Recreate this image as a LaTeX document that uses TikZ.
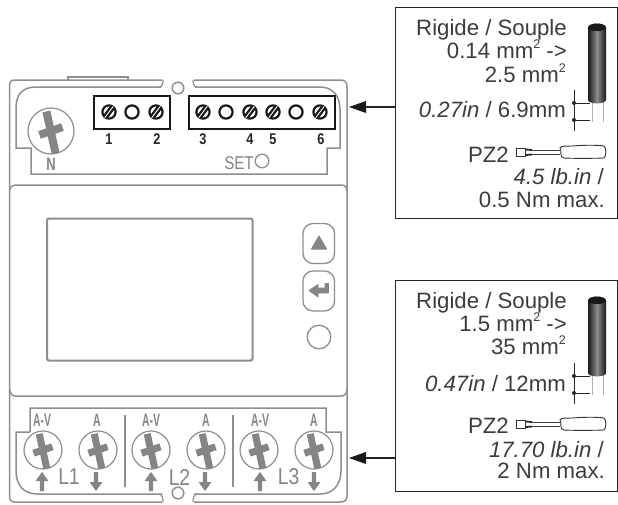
\documentclass[tikz,border=0pt]{standalone}
\usepackage{fontspec}
\setmainfont{Liberation Sans}
\definecolor{devgrey}{HTML}{8E8E8E}
\definecolor{crossgrey}{HTML}{858585}
\definecolor{txt}{HTML}{3C3C3C}
\newcommand{\sqmark}{\raisebox{.42em}{\fontsize{12.5}{12.5}\selectfont 2}}
\tikzset{
  x=1pt,y=-1pt,
  dev/.style={draw=devgrey,line width=1.5pt,fill=none},
  frame/.style={draw=black!85,line width=1.3pt,fill=white,inner sep=0pt,anchor=north west},
  infotext/.style={anchor=base east,inner sep=0pt,text=txt,font=\fontsize{22.2}{24}\selectfont},
  greylab/.style={text=crossgrey,inner sep=0pt,font=\bfseries\fontsize{18}{18}\selectfont},
  blacklab/.style={text=black!85,inner sep=0pt,xscale=.82,font=\bfseries\fontsize{15.5}{15.5}\selectfont},
  phaselab/.style={text=crossgrey,inner sep=0pt,xscale=.84,font=\fontsize{23}{23}\selectfont},
  feed/.style={draw=black!85,line width=1.2pt},
}
\newcommand{\crossscrew}[4]{% x y radius barwidth
  \begin{scope}[shift={(#1,#2)}]
    \draw[draw=devgrey,line width=1.2pt,fill=white] (0,0) circle[radius=#3];
    \draw[crossgrey,line width=#4pt] (-0.2*#3,-0.85*#3) -- (0.2*#3,0.97*#3);
    \draw[crossgrey,line width=#4pt] (-0.5*#3,0.17*#3) -- (0.5*#3,-0.17*#3);
  \end{scope}}
\newcommand{\slotscrew}[2]{%
  \draw[black!90,line width=2.2pt,fill=white] (#1,#2) circle[radius=6.6];
  \draw[black!90,line width=5.5pt] (#1-3.9,#2+5.2) -- (#1+3.9,#2-5.2);
  \draw[white,line width=.9pt] (#1-4.2,#2+5.6) -- (#1+4.2,#2-5.6);}
\newcommand{\openhole}[2]{%
  \draw[black!90,line width=2.2pt,fill=white] (#1,#2) circle[radius=6.6];}
\newcommand{\uparrowmark}[1]{%
  \fill[crossgrey] (#1-2.2,491) -- (#1-2.2,481) -- (#1-6.5,481) -- (#1,472) -- (#1+6.5,481) -- (#1+2.2,481) -- (#1+2.2,491) -- cycle;}
\newcommand{\downarrowmark}[1]{%
  \fill[crossgrey] (#1-2.2,472) -- (#1-2.2,482) -- (#1-6.5,482) -- (#1,491) -- (#1+6.5,482) -- (#1+2.2,482) -- (#1+2.2,472) -- cycle;}
\newcommand{\cablemark}[1]{% y offset
  \begin{scope}[shift={(0,#1)}]
    \draw[devgrey!70,line width=1pt] (592.5,100) -- (592.5,122);
    \draw[devgrey!70,line width=1pt] (603,100) -- (603,122);
    \shade[left color=black!90,right color=black!90,middle color=black!45]
      (588,28) .. controls (588,22) and (606,22) .. (606,28) -- (606,100)
      .. controls (606,104.5) and (588,104.5) .. (588,100) -- cycle;
    \fill[black!90] (588,28) .. controls (588,22) and (606,22) .. (606,28)
      .. controls (606,32) and (588,32) .. (588,28) -- cycle;
    \draw[black!85,line width=1pt] (574,90) -- (574,131);
    \draw[black!85,line width=1pt] (574,103) -- (590,103);
    \draw[black!85,line width=1pt] (574,120) -- (590,120);
    \fill[black!85] (574,103) circle[radius=2] (574,120) circle[radius=2];
  \end{scope}}
\newcommand{\drivermark}[1]{% y offset
  \begin{scope}[shift={(0,#1)}]
    \draw[black!80,line width=.8pt] (516,148.5) -- (525,148.5) -- (525,156) -- (516,156) -- cycle;
    \draw[black!85,line width=1.8pt] (526,149.5) -- (532,150);
    \draw[black!85,line width=1.8pt] (526,155) -- (532,154.5);
    \draw[black!75,line width=.8pt] (532,150) -- (560,150);
    \draw[black!75,line width=.8pt] (532,154.5) -- (560,154.5);
    \draw[black!80,line width=.9pt] (560,148) .. controls (562,145) and (566,146.5) .. (572,146)
      .. controls (585,145) and (598,145) .. (604,146) .. controls (606.5,148) and (606.5,156) .. (604,158)
      .. controls (590,158.5) and (575,158.5) .. (564,158) .. controls (559,158) and (562,150) .. (560,148) -- cycle;
  \end{scope}}
\begin{document}
\begin{tikzpicture}
\useasboundingbox (0,0) rectangle (618,504);
\fill[white] (0,0) rectangle (618,504);

% device outer
\draw[dev] (68,80) -- (68,77) -- (128,77) -- (128,80);
\draw[dev] (162,80) -- (15,80) .. controls (11,80) and (9.5,82) .. (9.5,86) -- (9.5,496)
  .. controls (9.5,500) and (11,502) .. (15,502) -- (162,502);
\draw[dev] (194,80) -- (340,80) .. controls (345,80) and (347,82) .. (347,87) -- (347,496)
  .. controls (347,500) and (345,502) .. (340,502) -- (194,502);
% middle section
\draw[dev] (9.5,191) .. controls (10,187) and (12,185) .. (15,185) -- (341,185)
  .. controls (345,185) and (347,187) .. (347,191);
\draw[dev] (9.5,389) .. controls (10,393) and (12,396) .. (15,396) -- (341,396)
  .. controls (345,396) and (347,393) .. (347,389);
% top inner panel
\draw[dev] (161,87) -- (36,87) .. controls (22,87) and (16,95) .. (16,108) -- (16,148) -- (31,148) -- (31,174)
  -- (327,174) -- (327,148) -- (340,148) -- (340,110) .. controls (340,95) and (332,87) .. (320,87) -- (195,87);
% bottom inner panel
\draw[dev] (30,432) -- (30,408) -- (326,408) -- (326,432) -- (341,432) -- (341,470)
  .. controls (341,486) and (332,494) .. (320,494) -- (194,494);
\draw[dev] (30,432) -- (16,432) -- (16,470) .. controls (16,486) and (24,494) .. (38,494) -- (162,494);
% notches with small circles
\draw[dev,line width=1.2pt] (163,80) .. controls (163,84) and (162,87) .. (159,87);
\draw[dev,line width=1.2pt] (193,80) .. controls (193,84) and (194,87) .. (197,87);
\draw[dev,line width=1.2pt] (163,502) .. controls (163,498) and (162,494) .. (159,494);
\draw[dev,line width=1.2pt] (193,502) .. controls (193,498) and (194,494) .. (197,494);
\draw[dev,fill=white] (178,88) circle[radius=5.8];
\draw[dev,fill=white] (178,493) circle[radius=5.8];

% screen
\draw[draw=devgrey,line width=2pt,rounded corners=2pt] (47,218.5) rectangle (252.5,360.5);
% buttons
\draw[draw=devgrey,line width=1.3pt,rounded corners=10pt] (303,223.5) rectangle (334.5,263.5);
\draw[draw=devgrey,line width=1.3pt,rounded corners=10pt] (303,271) rectangle (334.5,311);
\fill[crossgrey,draw=crossgrey,line width=1pt,line join=round] (319,236) -- (311.5,249) -- (326.5,249) -- cycle;
\fill[crossgrey,draw=crossgrey,line width=.8pt,line join=round] (309,290.5) -- (318,284.5) -- (318,288) -- (325,288) -- (325,283.5) -- (328.5,283.5) -- (328.5,293) -- (318,293) -- (318,297) -- cycle;
\draw[draw=devgrey,line width=1.3pt] (319,337) circle[radius=11.8];

% N terminal
\crossscrew{51}{131}{23}{8}
\node[greylab,xscale=.72] (nlab) at (51,164) {N};

% terminal blocks
\draw[black!90,line width=2pt,fill=white] (94,96) rectangle (170,129);
\draw[black!90,line width=2pt,fill=white] (189,96) rectangle (335,129);
\slotscrew{109}{112}
\openhole{132}{112}
\slotscrew{156}{112}
\slotscrew{203}{112}
\openhole{226}{112}
\slotscrew{250}{112}
\slotscrew{273}{112}
\openhole{296}{112}
\slotscrew{320}{112}
\node[blacklab] (t1) at (109,139) {1};
\node[blacklab] (t2) at (157,139) {2};
\node[blacklab] (t3) at (203,139) {3};
\node[blacklab] (t4) at (250,139) {4};
\node[blacklab] (t5) at (273,139) {5};
\node[blacklab] (t6) at (321,139) {6};
\node[greylab,font=\fontsize{18.5}{18.5}\selectfont,xscale=.82] (setlab) at (239,163) {SET};
\draw[draw=devgrey,line width=1.3pt] (262,161) circle[radius=6.8];

% lower terminals
\crossscrew{43}{450}{19}{7}
\crossscrew{98}{450}{19}{7}
\crossscrew{151}{450}{19}{7}
\crossscrew{206}{450}{19}{7}
\crossscrew{259}{450}{19}{7}
\crossscrew{314}{450}{19}{7}
\node[greylab,xscale=.58] (av1) at (42,420) {A-V};
\node[greylab,xscale=.58] (a1) at (97,420) {A};
\node[greylab,xscale=.58] (av2) at (151,420) {A-V};
\node[greylab,xscale=.58] (a2) at (206,420) {A};
\node[greylab,xscale=.58] (av3) at (260,420) {A-V};
\node[greylab,xscale=.58] (a3) at (314,420) {A};
\uparrowmark{42}
\downarrowmark{96}
\uparrowmark{151}
\downarrowmark{205}
\uparrowmark{260}
\downarrowmark{314}
\node[phaselab] (l1) at (69,477) {L1};
\node[phaselab] (l2) at (179.5,477) {L2};
\node[phaselab] (l3) at (288.5,477) {L3};
\draw[draw=devgrey,line width=1.3pt] (125,415) -- (125,487);
\draw[draw=devgrey,line width=1.3pt] (233,415) -- (233,487);

% info boxes
\node[frame,minimum width=222pt,minimum height=211pt] (box1) at (395,7) {};
\node[frame,minimum width=222pt,minimum height=211pt] (box2) at (395,280) {};

\coordinate (tip1) at (349,107);
\coordinate (tip2) at (349,458);
\draw[feed] (box1.west |- tip1) -- (362,107);
\draw[feed] (box2.west |- tip2) -- (362,458);
\fill[black!90] (tip1) -- (366,101) -- (366,113) -- cycle;
\fill[black!90] (tip2) -- (366,452) -- (366,464) -- cycle;

% box 1 text
\node[infotext] (b1a) at (567,35) {Rigide / Souple};
\node[infotext] (b1b) at (567,58) {0.14 mm\sqmark{} ->};
\node[infotext] (b1c) at (566,82) {2.5 mm\sqmark};
\node[infotext] (b1d) at (566,117) {\textit{0.27in} / 6.9mm};
\node[infotext] (b1e) at (509,162) {PZ2};
\node[infotext] (b1f) at (604,184) {\textit{4.5 lb.in} /};
\node[infotext] (b1g) at (605,207) {0.5 Nm max.};
\cablemark{0}
\drivermark{0}

% box 2 text
\node[infotext] (b2a) at (567,308) {Rigide / Souple};
\node[infotext] (b2b) at (567,331) {1.5 mm\sqmark{} ->};
\node[infotext] (b2c) at (566,354) {35 mm\sqmark};
\node[infotext] (b2d) at (566,391) {\textit{0.47in} / 12mm};
\node[infotext] (b2e) at (509,433) {PZ2};
\node[infotext] (b2f) at (604,457) {\textit{17.70 lb.in} /};
\node[infotext] (b2g) at (605,478) {2 Nm max.};
\cablemark{273}
\drivermark{272}
\end{tikzpicture}
\end{document}
